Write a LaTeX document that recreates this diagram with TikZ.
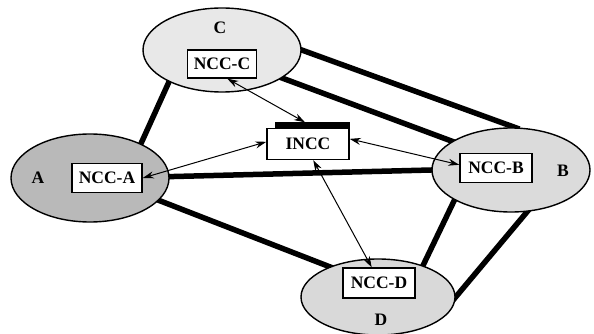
\documentclass[tikz,border=0pt]{standalone}
\usepackage{fontspec}
\setmainfont{Liberation Serif}
\usetikzlibrary{shapes.geometric,arrows.meta,backgrounds}
\begin{document}
\begin{tikzpicture}[x=1pt,y=-1pt,
  region/.style={ellipse,draw,line width=1.4pt,inner sep=0pt},
  ncc/.style={rectangle,draw,line width=1.4pt,fill=white,font=\fontsize{17.5}{19}\selectfont\bfseries,inner sep=0pt},
  lbl/.style={font=\fontsize{17.5}{19}\selectfont\bfseries,inner sep=0pt},
  link/.style={line width=5.5pt,shorten <=-5pt,shorten >=-5pt},
  msg/.style={line width=1pt,{Stealth[length=11pt,width=7pt]}-{Stealth[length=11pt,width=7pt]}}
]
\useasboundingbox (0,0) rectangle (594,334);
% regions
\node[region,fill=gray!55,minimum width=158pt,minimum height=88pt] (A) at (90,178) {};
\node[region,fill=gray!18,minimum width=158pt,minimum height=84pt] (C) at (222,50) {};
\node[region,fill=gray!28,minimum width=158pt,minimum height=84pt] (B) at (511,170) {};
\node[region,fill=gray!30,minimum width=154pt,minimum height=76pt] (D) at (378,297) {};
% labels
\node[lbl] (lA) at (38,178) {A};
\node[lbl] (lC) at (220,28) {C};
\node[lbl] (lB) at (563,171) {B};
\node[lbl] (lD) at (381,320) {D};
% boxes
\node[ncc,minimum width=70pt,minimum height=29pt] (NA) at (107,178) {NCC-A};
\node[ncc,minimum width=69pt,minimum height=28pt] (NC) at (222,64) {NCC-C};
\node[ncc,minimum width=72pt,minimum height=29pt] (NB) at (496,168) {NCC-B};
\node[ncc,minimum width=72pt,minimum height=30pt] (ND) at (379,283) {NCC-D};
\node[ncc,minimum width=82pt,minimum height=31pt] (I) at (308,144) {INCC};
\node[fill=black,inner sep=0pt,minimum width=75pt,minimum height=6pt] (tab) at (312,125.5) {};
% thick links (behind)
\begin{pgfonlayer}{background}
\draw[link] (C.211) -- (A.34);
\draw[link] (A.1) -- (B.180.7);
\draw[link] (A.-18) -- (D.148);
\draw[link] (C.0) -- (B.85);
\draw[link] (C.-25) -- (B.154);
\draw[link] (B.208) -- (D.35.5);
\draw[link] (B.291) -- (D.0);
\end{pgfonlayer}
% message arrows
\draw[msg] (NC.-70) -- ([xshift=-7pt]tab.north);
\draw[msg] (I.177) -- (NA.east);
\draw[msg] (I.7) -- (NB.175);
\draw[msg] (I.-72) -- (ND.115);
\end{tikzpicture}
\end{document}
